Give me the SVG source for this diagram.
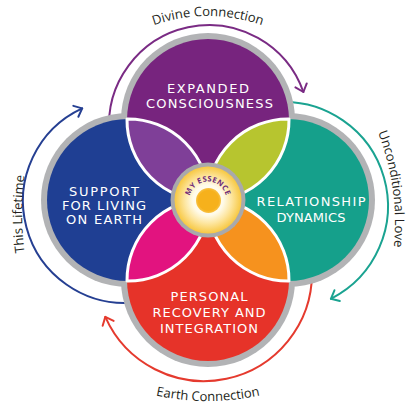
<svg xmlns="http://www.w3.org/2000/svg" width="409" height="407" viewBox="0 0 409 407">
<style>
.ring{fill:#b2b3b5}
.lbl{font-family:"DejaVu Sans","Open Sans",sans-serif;font-weight:normal;font-size:13px;fill:#fff;text-anchor:middle}
.arclbl{font-family:"Open Sans","Liberation Sans",sans-serif;font-size:13px;fill:#231f20;text-anchor:middle}
.arc{fill:none;stroke-width:2;stroke-linecap:round}
.petal{stroke:#fff;stroke-width:3;stroke-linejoin:round}
</style>
<defs>
<marker id="mPurple" markerUnits="userSpaceOnUse" markerWidth="14" markerHeight="16" viewBox="-10 -8 12 16" refX="0" refY="0" orient="auto"><path d="M-7,-6 L0,0 L-7,6" fill="none" stroke="#7a2b84" stroke-width="2" stroke-linecap="round" stroke-linejoin="round"/></marker>
<marker id="mTeal" markerUnits="userSpaceOnUse" markerWidth="14" markerHeight="16" viewBox="-10 -8 12 16" refX="0" refY="0" orient="auto"><path d="M-7,-6 L0,0 L-7,6" fill="none" stroke="#1aa391" stroke-width="2" stroke-linecap="round" stroke-linejoin="round"/></marker>
<marker id="mRed" markerUnits="userSpaceOnUse" markerWidth="14" markerHeight="16" viewBox="-10 -8 12 16" refX="0" refY="0" orient="auto"><path d="M-7,-6 L0,0 L-7,6" fill="none" stroke="#e53a2e" stroke-width="2" stroke-linecap="round" stroke-linejoin="round"/></marker>
<marker id="mBlue" markerUnits="userSpaceOnUse" markerWidth="14" markerHeight="16" viewBox="-10 -8 12 16" refX="0" refY="0" orient="auto"><path d="M-7,-6 L0,0 L-7,6" fill="none" stroke="#253f92" stroke-width="2" stroke-linecap="round" stroke-linejoin="round"/></marker>
<radialGradient id="gEss" cx="0.5" cy="0.5" r="0.5">
<stop offset="0" stop-color="#ffffff"/>
<stop offset="0.45" stop-color="#fffbea"/>
<stop offset="0.7" stop-color="#fde6a0"/>
<stop offset="1" stop-color="#f7c842"/>
</radialGradient>
<radialGradient id="gCore" cx="0.5" cy="0.5" r="0.5">
<stop offset="0.8" stop-color="#f6b11c"/>
<stop offset="1" stop-color="#f8c245"/>
</radialGradient>
<path id="pDivine" d="M46,178 A162,162 0 0 1 370,178"/>
<path id="pEarth" d="M-42,151 A250,250 0 0 0 458,151"/>
<path id="pLove" d="M375,125 A250,250 0 0 1 393,255"/>
<path id="pLife" d="M26,262 A300,300 0 0 1 26,166"/>
<path id="pEss" d="M189.5,200 A18.5,18.5 0 0 1 226.5,200"/>
</defs>

<g id="connectors">
<path class="arc" stroke="#7a2b84" d="M109.4,133.7 A100,100 0 0 1 303.4,92" marker-end="url(#mPurple)"/>
<path class="arc" stroke="#1aa391" d="M274.9,102.4 A104,104 0 0 1 330.9,298.8" marker-end="url(#mTeal)"/>
<path class="arc" stroke="#e53a2e" d="M312,273 A108,108 0 0 1 105.3,316.9" marker-end="url(#mRed)"/>
<path class="arc" stroke="#253f92" d="M133.9,302.6 A102,102 0 0 1 82.2,108.4" marker-end="url(#mBlue)"/>
<text class="arclbl"><textPath href="#pDivine" startOffset="50%">Divine Connection</textPath></text>
<text class="arclbl"><textPath href="#pLove" startOffset="50%">Unconditional Love</textPath></text>
<text class="arclbl"><textPath href="#pEarth" startOffset="50%">Earth Connection</textPath></text>
<text class="arclbl"><textPath href="#pLife" startOffset="50%">This Lifetime</textPath></text>
</g>

<g id="rings">
<circle class="ring" cx="208" cy="120" r="87"/>
<circle class="ring" cx="128" cy="200" r="87"/>
<circle class="ring" cx="288" cy="200" r="87"/>
<circle class="ring" cx="208" cy="280" r="87"/>
</g>

<g id="node-expanded">
<circle cx="208" cy="120" r="81" fill="#77247e"/>
<text class="lbl" x="208" y="93" textLength="82" lengthAdjust="spacing">EXPANDED</text>
<text class="lbl" x="209.5" y="108" textLength="127" lengthAdjust="spacing">CONSCIOUSNESS</text>
</g>
<g id="node-support">
<circle cx="128" cy="200" r="81" fill="#1f3f93"/>
<text class="lbl" x="104" y="196" textLength="70" lengthAdjust="spacing">SUPPORT</text>
<text class="lbl" x="104" y="210" textLength="84" lengthAdjust="spacing">FOR LIVING</text>
<text class="lbl" x="104" y="224" textLength="76" lengthAdjust="spacing">ON EARTH</text>
</g>
<g id="node-relationship">
<circle cx="288" cy="200" r="81" fill="#15a08b"/>
<text class="lbl" x="311" y="206" textLength="109" lengthAdjust="spacing">RELATIONSHIP</text>
<text class="lbl" x="311" y="222" textLength="69" lengthAdjust="spacing">DYNAMICS</text>
</g>
<g id="node-personal">
<circle cx="208" cy="280" r="81" fill="#e63329"/>
<text class="lbl" x="209" y="301" textLength="77" lengthAdjust="spacing">PERSONAL</text>
<text class="lbl" x="209" y="317" textLength="113" lengthAdjust="spacing">RECOVERY AND</text>
<text class="lbl" x="209" y="333" textLength="98" lengthAdjust="spacing">INTEGRATION</text>
</g>

<g id="petals">
<path class="petal" fill="#7f3f98" d="M127,119 A81,81 0 0 0 209,201 A81,81 0 0 0 127,119 Z"/>
<path class="petal" fill="#b7c52f" d="M289,119 A81,81 0 0 0 207,201 A81,81 0 0 0 289,119 Z"/>
<path class="petal" fill="#e2137f" d="M127,281 A81,81 0 0 0 209,199 A81,81 0 0 0 127,281 Z"/>
<path class="petal" fill="#f6921e" d="M289,281 A81,81 0 0 0 207,199 A81,81 0 0 0 289,281 Z"/>
</g>

<g id="node-essence">
<circle cx="208" cy="200" r="37.5" fill="#a9a9ab"/>
<circle cx="208" cy="200" r="33.5" fill="url(#gEss)"/>
<circle cx="208.5" cy="200.5" r="12.5" fill="url(#gCore)"/>
<text font-family="'Open Sans','Liberation Sans',sans-serif" font-weight="700" font-size="7.5" fill="#6d2a78" text-anchor="middle" letter-spacing="0.4"><textPath href="#pEss" startOffset="50%">MY ESSENCE</textPath></text>
</g>
</svg>
